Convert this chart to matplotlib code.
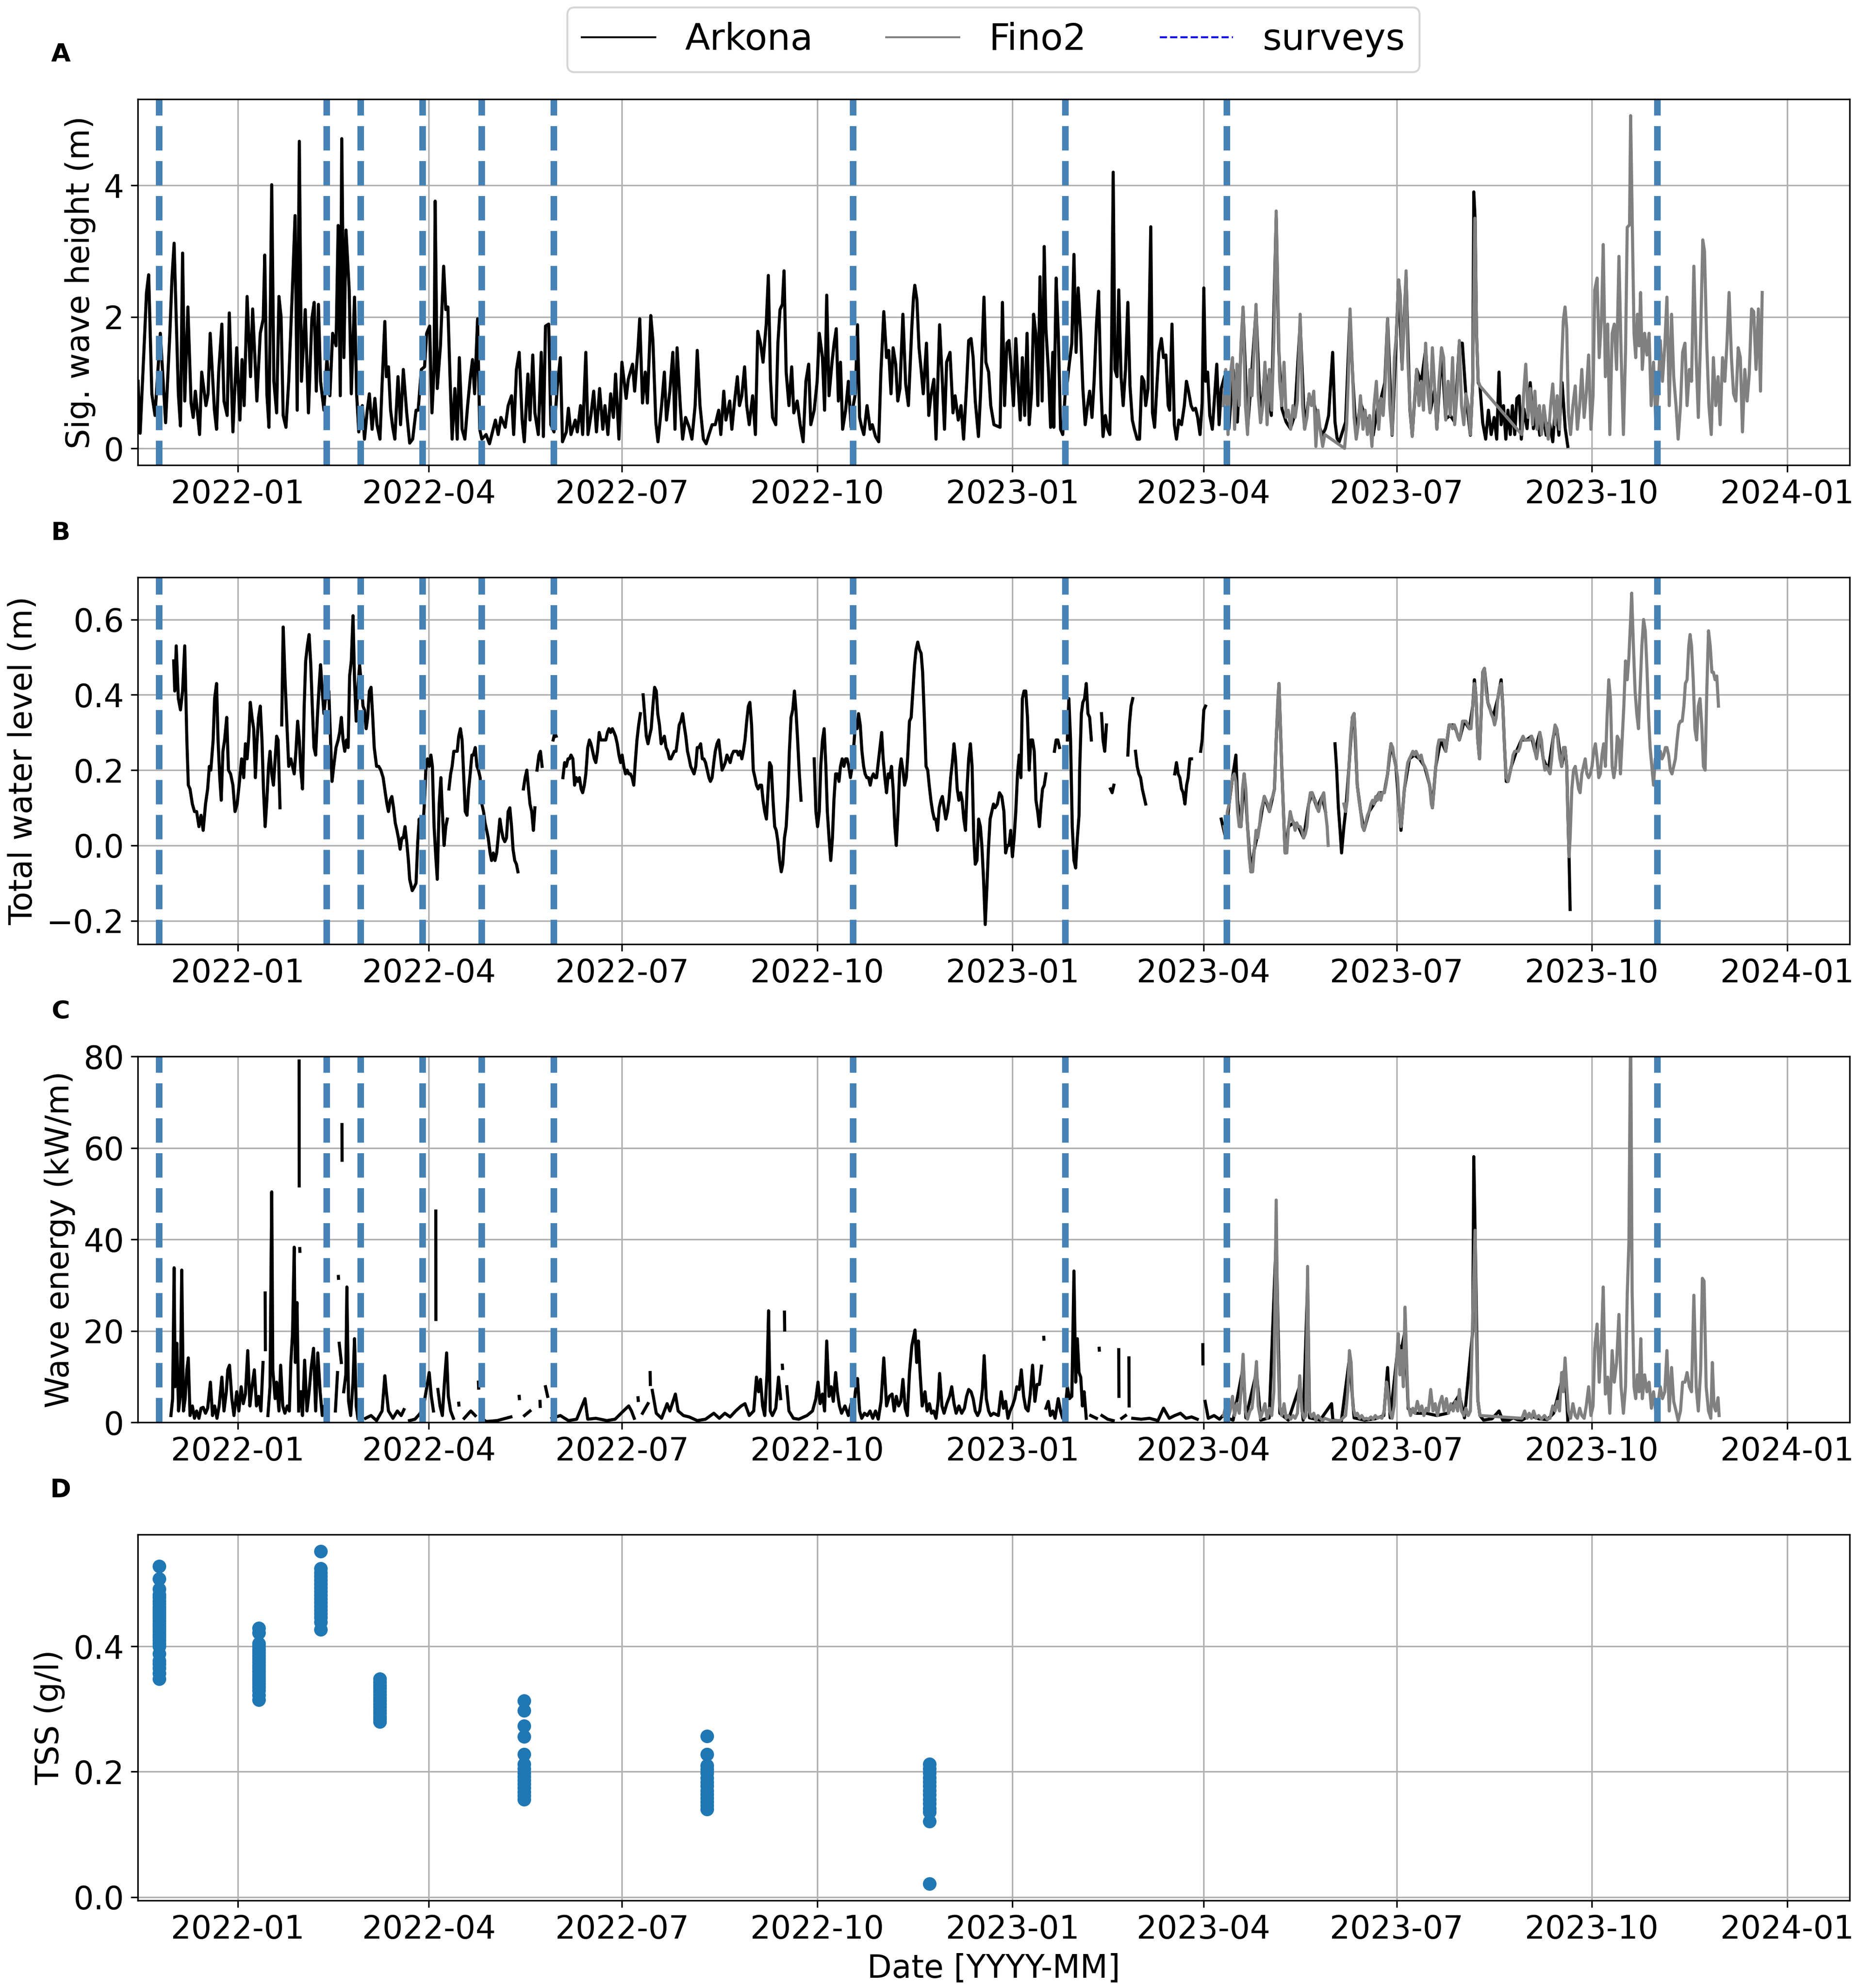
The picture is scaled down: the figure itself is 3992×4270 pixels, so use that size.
import numpy as np
import pandas as pd
import matplotlib
matplotlib.use("Agg")
import matplotlib.pyplot as plt
import matplotlib.dates as mdates
from matplotlib.lines import Line2D

# ---------------- data (day offsets, value); None = gap ----------------
BASE22 = "2022-01-01"
BASE23 = "2023-01-01"

survey_dates = ["2021-11-25", "2022-02-12", "2022-02-28", "2022-03-29", "2022-04-26",
                "2022-05-30", "2022-10-18", "2023-01-26", "2023-04-12", "2023-11-01"]

# Significant wave height, Arkona (days from 2022-01-01)
hs_ark_22 = [(-47,1.02),(-46,0.23),(-44,1.64),(-43,2.37),(-42,2.64),(-40.5,0.83),(-39,0.5),(-36.5,1.75),(-34,0.39),(-32,1.75),(-31,2.59),(-30,3.12),(-28,0.83),(-27,0.34),(-26,2.97),(-25,0.72),(-23.5,2.15),(-22,0.69),(-21,0.47),(-20,0.87),(-18,0.21),(-17,1.16),(-15,0.65),(-14,0.83),(-13,1.75),(-11,0.58),(-10,0.29),(-9,1.16),(-7.5,1.89),(-6.5,0.72),(-5,0.5),(-4,2.06),(-2.3,0.25),(-0.5,1.53),(1,0.43),(2,1.35),(3,0.65),(4.4,2.31),(6,1.09),(7,2.12),(9,0.72),(10.6,1.75),(12,1.97),(12.7,2.94),(13.7,0.83),(14.7,0.32),(16,4.01),(17,1.02),(18.3,0.54),(19.4,2.31),(20.4,2.0),(21.4,0.5),(22.7,0.32),(24,1.02),(25.6,2.3),(27,3.54),(28,0.58),(29,4.67),(30,1.02),(31.8,2.11),(33.3,0.54),(34.9,1.97),(36,2.22),(37,0.87),(38,2.19),(39,1.02),(40.6,0.58),(42,1.38),(43.4,0.8),(44.7,1.75),(46.3,1.56),(47.3,3.39),(48.3,0.8),(49,4.71),(50,1.38),(51,3.32),(52.5,2.41),(53.5,0.83),(55,2.3),(56,0.83),(57,0.25),(58.7,0.65),(59.7,0.14),(61,0.58),(62,0.83),(63.3,0.29),(64.6,0.76),(65.6,0.36),(67,0.14),(68,0.98),(69.3,1.93),(70,1.09),(71,1.24),(72,0.58),(73,0.32),(74,0.14),(75.5,1.09),(76.7,0.36),(78,1.2),(79.6,0.54),(81,0.08),(82.4,0.14),(84,0.58),(85,0.58),(86.5,1.2),(88,1.24),(89,1.75),(90.4,1.86),(91.5,0.54),(92.5,1.2),(93,3.76),(94,0.91),(95.5,1.56),(97,2.77),(98,2.11),(99,2.15),(100,1.09),(101,0.14),(102.3,0.91),(103.4,0.14),(104.4,1.38),(105.7,0.29),(107,0.14),(108.3,0.65),(109.6,1.09),(110.6,1.35),(111.6,0.83),(113,1.97),(114,0.29),(115,0.14),(117,0.21),(118.6,0.07),(120,0.25),(121.4,0.43),(122.7,0.21),(124,0.47),(126,0.32),(127.4,0.65),(129,0.8),(130,0.21),(131.3,1.2),(132.6,1.46),(134,0.43),(135,0.1),(136.7,1.13),(137.7,0.43),(139,1.42),(140,0.54),(141.6,0.21),(143,1.46),(144,0.18),(145,1.86),(146.5,1.89),(147.5,0.36),(149,0.25),(150.6,0.95),(152,1.38),(153,0.1),(154.8,0.25),(155.8,0.61),(157,0.21),(159,0.43),(160,0.25),(161.5,0.65),(162.5,0.21),(164,1.46),(165,0.21),(166.4,0.5),(167.7,0.87),(169,0.25),(170.5,0.91),(172,0.29),(173,0.65),(174.4,0.21),(175.7,0.83),(177,0.47),(178,1.13),(179.6,0.14),(181,1.31),(183,0.76),(184,1.05),(186,1.28),(187,0.87),(188.6,1.53),(189.4,1.97),(190.7,0.69),(192,1.16),(193,0.69),(194.6,2.02),(195.6,1.64),(197,0.39),(198,0.1),(199.7,0.65),(201,1.16),(202,0.43),(203.6,0.87),(205,1.46),(206,0.29),(207,1.53),(208.5,0.65),(209.6,0.14),(211,0.47),(212.7,0.32),(214,0.14),(215.5,0.65),(216.5,1.49),(217.8,0.65),(219.4,0.14),(220.7,0.07),(222,0.21),(223.5,0.36),(225,0.36),(226.6,0.58),(227.6,0.21),(229,0.87),(230,0.43),(231.8,0.72),(232.8,0.29),(234,0.69),(235.4,1.09),(236.4,0.65),(237.5,0.8),(238.8,1.24),(239.8,0.65),(241,0.36),(242.6,0.8),(243.9,0.21),(245,1.78),(246.3,1.6),(247.5,1.31),(249,1.89),(250,2.63),(251,1.05),(252,0.47),(253.5,0.36),(254.5,1.6),(255.5,2.11),(256.6,2.19),(257.4,2.7),(258.4,1.16),(259.7,0.65),(261,1.24),(262,0.54),(263.6,0.72),(265,0.36),(266.4,0.1),(267.7,1.02),(269,1.28),(270,0.36),(271.6,0.58),(273,1.02),(274,1.75),(275.5,1.38),(276.5,0.58),(277.5,2.33),(278.6,0.8),(280,1.31),(281,1.6),(282,1.82),(283,0.72),(284,1.31),(285,0.29),(286.4,0.58),(287.7,1.02),(289,0.32),(290,0.65),(291,0.83),(292,1.88),(293,0.47),(294,0.32),(295,0.21),(296.5,0.65),(298,0.29),(299,0.36),(300.5,0.18),(302,0.1),(303,1.13),(304.4,2.08),(305.7,1.38),(306.7,1.49),(307.8,0.83),(308.8,1.53),(310,1.28),(311,0.72),(312,0.91),(313.4,2.04),(314.7,0.98),(316,0.65),(317.6,1.84),(318.4,2.3),(319,2.48),(320,2.26),(321,1.53),(322,1.2),(323,0.83),(324.5,1.6),(325.6,0.5),(326.6,0.8),(328,1.05),(329,0.14),(330.7,1.88),(332,1.02),(333,0.29),(334,1.31),(335.6,1.46),(337,0.54),(338,0.8),(339.5,0.43),(340.8,0.65),(342,0.14),(343.4,0.95),(344.4,1.64),(345.5,1.67),(346.5,1.38),(347.5,0.72),(349,0.18),(350,0.83),(351.6,2.3),(352.5,1.31),(353.8,1.16),(354.8,0.65),(356.3,0.36)]

# Significant wave height, Arkona (days from 2023-01-01)
hs_ark_23 = [(-5.8,0.32),(-4.7,2.22),(-3.7,0.65),(-2.6,1.6),(-1.6,1.64),(-0.5,1.16),(0.5,0.65),(1.6,1.67),(2.6,1.02),(3.7,0.43),(4.7,1.38),(5.8,0.5),(6.9,1.75),(7.9,0.36),(9,0.83),(10,2.04),(11,1.75),(12,0.65),(13,2.61),(14,0.72),(15,3.07),(15.8,1.82),(17,1.16),(18,0.32),(19,1.46),(19.5,0.32),(20.6,2.59),(21.6,1.75),(22.7,0.29),(23.7,0.21),(24.8,0.8),(25.9,1.02),(26.9,1.31),(28,1.6),(29,2.95),(30,1.46),(31,2.44),(32.2,1.75),(33.2,0.91),(34.3,0.36),(35.4,0.65),(36.4,0.87),(37.5,0.47),(38.5,1.02),(39.6,1.89),(40.6,2.39),(41.7,0.95),(42.7,0.18),(43.8,0.5),(44.9,0.29),(45.9,0.21),(46.7,1.46),(47.5,4.2),(48.3,1.2),(49.3,1.09),(50.1,2.41),(51.2,1.09),(52.2,0.65),(53.3,1.2),(54.4,2.22),(55.4,0.95),(56.5,0.43),(57.5,0.29),(58.8,0.14),(59.9,0.14),(61,1.09),(62,1.02),(62.8,0.65),(63.9,0.91),(65.2,3.37),(66,0.54),(67,0.32),(68,0.91),(69,1.46),(70.2,1.67),(71.2,1.38),(72.3,1.42),(73.4,0.65),(74.1,0.58),(75.2,1.89),(76.3,0.36),(77.3,0.14),(78.4,0.43),(79.7,0.36),(81,0.65),(82,1.02),(83,0.87),(84.2,0.65),(85.2,0.58),(86.3,0.61),(87.3,0.47),(88.4,0.21),(89.4,0.69),(90.2,2.44),(91,1.02),(92,1.16),(93,0.5),(94.2,0.29),(95.3,0.8),(96.3,1.28),(97.4,0.36),(98.4,0.91),(100,1.1),(102,0.3),(104,1.2),(106,0.4),(108.7,2.1),(110.8,0.3),(112,0.8),(114.8,2.1),(117,0.4),(119,1.2),(122,0.5),(124.3,3.5),(125.5,1.5),(127,0.6),(129,0.4),(131,0.3),(133,0.5),(135.6,1.9),(137.7,0.3),(139.8,0.8),(142,0.7),(144,0.4),(146,0.2),(147.5,0.3),(149,0.5),(150.9,1.46),(152,0.4),(153,0.15),(154,0.1),(155.5,0.25),(157,0.4),(159,2.0),(160.5,1.0),(162,0.2),(164,0.7),(166,0.5),(168,0.4),(170,0.2),(172,0.6),(173.6,0.75),(175.5,1.0),(176.8,1.97),(178.9,0.2),(180.5,1.4),(182,2.56),(183.5,1.3),(185.5,2.6),(187.3,0.6),(188.4,0.2),(190.5,1.2),(192.6,1.0),(194.7,1.5),(196.8,0.55),(199,0.9),(200,0.3),(202.2,1.5),(204.2,0.45),(206.3,0.5),(208.4,0.4),(210.6,1.6),(212,1.6),(213.7,0.8),(215.8,0.2),(216.9,1.0),(217.4,3.9),(218,3.5),(218.7,1.75),(219.5,1.0),(220.3,0.95),(221.6,0.39),(223,0.14),(224.3,0.58),(225.6,0.21),(227,0.47),(228.2,0.14),(229.3,1.16),(230.3,0.36),(231.4,0.65),(232.5,0.14),(233.5,0.58),(234.6,0.21),(235.6,0.65),(236.7,0.21),(237.7,0.76),(238.8,0.8),(239.8,0.14),(241,0.6),(242.5,0.3),(244,1.0),(245.5,0.3),(247,0.6),(248.5,0.2),(250,0.5),(251.5,0.2),(253,0.4),(254.6,0.1),(256,0.7),(257.5,0.2),(259,1.0),(260.5,0.3),(261.7,0.03)]

# Significant wave height, Fino2 (days from 2023-01-01)
hs_fino = [(99.5,0.65),(100.5,1.2),(101.6,0.21),(102.6,1.09),(103.7,1.38),(104.7,0.29),(105.8,1.28),(106.9,0.65),(107.7,1.6),(108.7,2.15),(109.8,0.65),(110.8,0.21),(111.9,1.2),(112.9,0.8),(114,1.64),(114.8,2.19),(115.8,0.83),(116.9,0.39),(118,0.65),(119,1.31),(120,0.36),(121.1,1.2),(122.2,0.58),(123.2,1.67),(124.3,3.61),(125.1,2.3),(125.9,1.02),(126.9,0.65),(128,1.31),(129,0.47),(130,0.58),(131.1,0.29),(132.2,0.65),(133.2,0.47),(134.3,0.72),(135.6,2.04),(136.7,0.65),(137.7,0.29),(138.8,0.47),(139.8,0.83),(140.9,0.65),(142,0.87),(143,0.03),(144,0.58),(145,0.29),(146.2,0.03),(147.2,0.21),(156.5,0.0),(157.5,0.36),(158.3,1.09),(159.1,2.12),(160,1.38),(161,0.47),(162,0.14),(163,0.36),(164,0.8),(165.2,0.29),(166.2,0.58),(167.3,0.21),(168.3,0.5),(169.4,0.03),(170.4,0.65),(171.5,1.02),(172.6,0.29),(173.6,0.76),(174.7,0.5),(175.7,1.02),(176.8,1.97),(177.8,0.65),(178.9,0.21),(180,1.38),(181,1.75),(182,2.56),(182.8,2.33),(183.6,1.2),(184.4,1.75),(185.5,2.7),(186.3,1.38),(187.3,0.65),(188.4,0.18),(189.4,0.72),(190.5,1.2),(191.6,0.65),(192.6,1.02),(193.7,0.58),(194.7,1.6),(195.8,0.83),(196.8,0.54),(197.9,1.53),(198.9,0.95),(200,0.29),(201,1.02),(202.2,1.53),(203.2,1.38),(204.2,0.43),(205.3,1.02),(206.3,0.5),(207.4,1.38),(208.4,0.36),(209.5,0.83),(210.6,1.64),(211.6,0.65),(212.7,0.36),(213.7,0.83),(214.8,0.65),(215.8,0.21),(216.9,1.02),(217.9,3.5),(218.7,1.75),(219.5,1.02),(220.3,0.95),(240,0.21),(240.9,0.83),(241.9,1.28),(243,0.47),(244,0.91),(245.1,0.36),(246.2,0.87),(247.2,0.29),(248.3,0.65),(249.3,0.21),(250.4,0.65),(251.5,0.36),(252.5,0.14),(253.6,0.65),(254.6,0.98),(255.7,0.36),(256.7,0.8),(257.8,0.29),(258.8,1.31),(259.6,1.95),(260.4,2.15),(261.2,1.82),(262,0.54),(263,0.21),(264.1,0.65),(265.2,0.95),(266.2,0.29),(267.3,0.65),(268.3,1.2),(269.4,0.47),(270.4,0.83),(271.5,1.42),(272.6,0.29),(273.6,0.8),(274.4,2.41),(275.5,2.59),(276.5,1.38),(277.6,2.0),(278.4,3.1),(279.4,1.09),(280.5,1.89),(281.5,0.21),(282.6,1.75),(283.6,1.89),(284.7,1.2),(285.8,2.92),(286.8,1.46),(287.9,0.21),(288.9,1.46),(289.7,3.36),(290.8,3.4),(291.3,5.06),(292,3.58),(292.9,1.75),(293.7,1.38),(294.5,2.04),(295.3,1.56),(296,2.37),(296.8,1.2),(297.9,1.75),(299,1.42),(300,1.75),(301,0.65),(302.1,1.31),(303.2,0.36),(304.2,0.83),(305.3,1.64),(306.3,1.02),(307.4,1.56),(308.4,2.3),(309.5,0.65),(310.6,2.04),(311.6,1.09),(312.7,0.65),(313.7,0.14),(314.8,0.65),(315.8,1.46),(316.9,1.6),(317.9,0.65),(319,1.2),(320,1.02),(321.1,2.77),(322.2,1.38),(323.2,0.47),(324.3,1.75),(325.3,3.17),(326.1,3.0),(327.2,1.56),(328.2,0.65),(329.3,0.21),(330.3,1.38),(331.4,0.65),(332.5,1.09),(333.5,0.36),(334.6,1.38),(335.7,1.02),(336.7,1.6),(337.7,2.37),(338.8,1.38),(339.8,0.83),(340.9,0.72),(342,1.53),(343,1.38),(344,0.25),(345.1,1.2),(346.2,0.72),(347.2,1.13),(348.3,2.12),(349.3,2.08),(350.4,1.2),(351.5,2.12),(352.5,0.87),(353.3,2.37)]

# Total water level, Arkona (days from 2022-01-01)
wl_ark_22 = [(-30.2,0.49),(-29.7,0.41),(-29,0.53),(-28,0.39),(-27,0.36),(-26,0.41),(-25,0.53),(-24,0.28),(-23.3,0.16),(-22.5,0.15),(-21.4,0.11),(-20.4,0.09),(-19.4,0.09),(-18.3,0.05),(-17.3,0.08),(-16.3,0.04),(-15.2,0.11),(-14.2,0.15),(-13.4,0.21),(-12.7,0.20),(-11.6,0.28),(-10.9,0.39),(-10,0.43),(-9.3,0.28),(-8.5,0.18),(-7.8,0.12),(-7,0.25),(-6.2,0.28),(-5.2,0.34),(-4.4,0.20),(-3.4,0.19),(-2.3,0.16),(-1.3,0.09),(-0.3,0.11),(0.8,0.17),(1.8,0.23),(2.8,0.18),(3.6,0.27),(4.4,0.23),(5.2,0.29),(5.9,0.38),(6.7,0.34),(7.5,0.31),(8.3,0.18),(9,0.27),(9.8,0.34),(10.6,0.37),(11.4,0.28),(12.1,0.15),(12.9,0.05),(13.7,0.12),(14.5,0.21),(15.2,0.25),(16,0.19),(16.8,0.16),(17.6,0.23),(18.3,0.29),(19,0.28),(19.9,0.10),(20.3,None),
    (20.7,0.32),(21.4,0.58),(22.2,0.45),(23,0.34),(24,0.21),(25,0.23),(25.8,0.21),(26.6,0.19),(27.4,0.25),(28.2,0.33),(29,0.28),(29.7,0.20),(30.5,0.15),(31.3,0.37),(32,0.49),(32.8,0.53),(33.6,0.56),(34.4,0.48),(35.1,0.37),(35.9,0.26),(36.7,0.24),(37.5,0.34),(38.3,0.42),(39,0.48),(39.8,0.41),(40.6,0.35),(41.3,0.39),(42,0.39),(42.9,0.41),(43.7,0.28),(44.4,0.17),(45.2,0.21),(46.3,0.26),(47.3,0.28),(48,0.30),(48.8,0.34),(49.6,0.28),(50.4,0.25),(51.2,0.28),(52,0.26),(52.7,0.45),(53.5,0.49),(54.3,0.61),(55,0.44),(55.8,0.33),(56.6,0.42),(57.4,0.48),(58.2,0.43),(59,0.37),(59.7,0.36),(60.5,0.31),(61.2,0.34),(62,0.41),(62.8,0.42),(63.6,0.34),(64.3,0.26),(65.4,0.21),(66.4,0.21),(67.4,0.20),(68.5,0.18),(69.5,0.14),(70.3,0.11),(71,0.09),(71.8,0.12),(72.6,0.13),(73.4,0.10),(74.2,0.06),(75,0.04),(75.7,0.02),(76.5,-0.01),(77.3,0.02),(78,0.02),(78.8,0.05),(79.6,0.01),(80.4,-0.04),(81,-0.09),(82.2,-0.12),(83.2,-0.11),(84,-0.10),(84.8,0.01),(85.5,0.07),(86.3,0.02),(87,0.02),(87.9,0.11),(88.6,0.20),(89.4,0.23),(90.2,0.21),(91,0.24),(91.7,0.21),(92.5,0.05),(93.3,-0.03),(94,-0.09),(94.9,0.11),(95.7,0.18),(96.4,0.09),(97.2,0.00),(98,0.05),(98.7,0.07),(99.1,None),
    (99.5,0.15),(100.3,0.19),(101,0.21),(101.8,0.25),(102.6,0.25),(103.4,0.25),(104.1,0.29),(104.9,0.31),(105.7,0.28),(106.5,0.18),(107.2,0.09),(108,0.08),(108.8,0.15),(109.5,0.19),(110.3,0.24),(111,0.24),(111.9,0.26),(112.7,0.21),(113.4,0.20),(114.2,0.18),(115,0.11),(115.8,0.09),(116.5,0.06),(117.3,0.04),(118,0.02),(118.9,-0.02),(119.6,-0.04),(120.4,-0.02),(121.2,-0.04),(122,-0.02),(122.7,0.02),(123.5,0.07),(124.3,0.04),(125,0.02),(125.8,0.01),(126.6,0.02),(127.4,0.09),(128.2,0.10),(129,0.05),(129.7,-0.01),(130.5,-0.04),(131.3,-0.05),(132,-0.07),(133,None),
    (134.6,0.15),(135.4,0.18),(136.2,0.20),(137,0.15),(137.7,0.11),(138.5,0.09),(139.3,0.04),(140,0.10),(140.5,None),
    (141,0.20),(141.9,0.24),(142.6,0.25),(143.4,0.21),(145,None),
    (148.6,0.28),(149.4,0.30),(150,0.29),(151,None),
    (153.2,0.18),(154,0.22),(154.8,0.21),(155.6,0.23),(156.3,0.23),(157,0.24),(157.9,0.23),(158.7,0.16),(159.5,0.18),(160.2,0.17),(161,0.18),(161.8,0.15),(162.5,0.14),(163.3,0.16),(164,0.19),(164.9,0.26),(165.7,0.28),(166.4,0.27),(167.2,0.25),(168,0.23),(168.7,0.22),(169.5,0.25),(170.3,0.30),(171.1,0.28),(171.8,0.28),(172.6,0.28),(173.4,0.28),(174.2,0.30),(174.9,0.31),(175.7,0.30),(176.5,0.31),(177.3,0.30),(178,0.29),(178.8,0.27),(179.6,0.24),(180.4,0.22),(181.1,0.24),(181.9,0.21),(182.7,0.19),(183.5,0.20),(184.2,0.19),(185,0.19),(185.8,0.18),(186.6,0.16),(187.3,0.22),(188.1,0.28),(188.9,0.32),(189.7,0.35),(190.3,None),
    (191,0.40),(191.7,0.35),(192.5,0.29),(193.3,0.27),(194,0.29),(194.8,0.31),(195.6,0.37),(196.4,0.42),(197.2,0.41),(197.9,0.35),(198.7,0.32),(199.5,0.27),(200.3,0.28),(201,0.29),(201.8,0.26),(202.6,0.25),(203.4,0.23),(204.1,0.23),(204.9,0.24),(205.7,0.25),(206.5,0.25),(207.2,0.28),(208,0.32),(208.8,0.33),(209.6,0.35),(210.3,0.32),(211.1,0.29),(211.9,0.25),(212.7,0.23),(213.4,0.21),(214.2,0.20),(215,0.19),(215.8,0.21),(216.5,0.26),(217.3,0.26),(218.1,0.27),(218.9,0.23),(219.6,0.23),(220.4,0.22),(221.2,0.20),(222,0.18),(222.7,0.17),(223.5,0.18),(224.3,0.22),(225,0.25),(225.8,0.27),(226.6,0.28),(227.4,0.24),(228.2,0.20),(229,0.21),(229.7,0.22),(230.5,0.24),(231.3,0.23),(232,0.22),(232.8,0.24),(233.6,0.25),(234.4,0.25),(235.2,0.25),(235.9,0.24),(236.7,0.25),(237.5,0.23),(238.2,0.25),(239,0.28),(239.8,0.33),(240.6,0.37),(241.3,0.38),(242.1,0.32),(242.9,0.20),(243.7,0.18),(244.4,0.16),(245.2,0.15),(246,0.16),(246.8,0.16),(247.5,0.12),(248.3,0.09),(249.1,0.07),(249.9,0.15),(250.6,0.22),(251.4,0.21),(252.2,0.12),(253,0.05),(253.7,0.04),(254.5,0.01),(255.3,-0.04),(256.1,-0.07),(256.8,-0.05),(257.6,0.02),(258.4,0.05),(259.2,0.13),(259.9,0.25),(260.7,0.34),(261.5,0.36),(262.3,0.41),(263,0.36),(263.8,0.28),(264.6,0.19),(265.4,0.12),(268,None),
    (271.6,0.23),(272.4,0.09),(273.2,0.05),(274,0.09),(274.7,0.21),(275.5,0.28),(276.3,0.31),(277.1,0.21),(277.8,0.09),(278.6,0.02),(279.4,-0.04),(280.2,0.02),(280.9,0.12),(281.7,0.19),(282.5,0.19),(283.3,0.17),(284,0.21),(284.8,0.23),(285.6,0.21),(286.4,0.23),(287.1,0.23),(287.9,0.21),(288.7,0.18),(289.5,0.21),(290.2,0.26),(291,0.32),(291.8,0.31),(292.5,0.35),(293.3,0.32),(294.1,0.25),(294.9,0.21),(295.6,0.19),(296.4,0.18),(297.2,0.18),(298,0.16),(298.7,0.18),(299.5,0.19),(300.3,0.18),(301,0.18),(301.8,0.22),(302.6,0.26),(303.4,0.30),(304.1,0.23),(304.9,0.18),(305.7,0.14),(306.5,0.19),(307.2,0.18),(308,0.21),(308.8,0.15),(309.6,0.05),(310.3,0.00),(311.1,0.09),(311.9,0.20),(312.6,0.23),(313.4,0.20),(314.2,0.16),(315,0.18),(315.7,0.24),(316.5,0.33),(317.3,0.34),(318.1,0.41),(318.9,0.48),(319.6,0.52),(320.4,0.54),(321.2,0.52),(322,0.51),(322.7,0.46),(323.5,0.34),(324.3,0.21),(325.1,0.20),(325.8,0.16),(326.6,0.12),(327.4,0.09),(328.2,0.07),(328.9,0.07),(329.7,0.04),(330.5,0.10),(331.3,0.12),(332,0.13),(332.8,0.10),(333.6,0.07),(334.4,0.09),(335.1,0.12),(335.9,0.18),(336.7,0.22),(337.5,0.27),(338.2,0.23),(339,0.15),(339.8,0.12),(340.6,0.14),(341.3,0.12),(342.1,0.07),(342.9,0.04),(343.7,0.16),(344.4,0.23),(345.2,0.27),(346,0.21),(346.8,0.02),(347.5,-0.05),(348.3,-0.04),(349.1,0.07),(349.9,0.05),(350.6,0.00),(351.4,-0.09),(352.2,-0.21),(353,-0.11),(353.7,-0.01),(354.5,0.07),(355.3,0.09),(356.1,0.11)]

# Total water level, Arkona (days from 2023-01-01)
wl_ark_23 = [(-8.2,0.10),(-7.1,0.11),(-6.1,0.14),(-5.0,0.13),(-4.0,0.09),(-3.2,-0.02),(-2.4,0.00),(-1.6,0.00),(-0.8,0.04),(0,-0.03),(0.8,0.02),(1.6,0.09),(2.4,0.19),(3.2,0.24),(4.0,0.18),(4.7,0.39),(5.5,0.41),(6.3,0.41),(7.1,0.34),(7.9,0.20),(8.7,0.28),(9.5,0.28),(10.3,0.25),(11.1,0.12),(11.9,0.09),(12.7,0.05),(13.5,0.11),(14.2,0.15),(15.0,0.16),(15.8,0.19),(17,None),
    (19.8,0.25),(20.6,0.28),(21.4,0.28),(22.2,0.26),(23,None),
    (25.9,0.28),(26.6,0.39),(27.4,0.28),(28.2,0.05),(29.0,-0.04),(29.8,-0.06),(30.6,0.02),(31.4,0.08),(31.7,0.20),(32.5,0.35),(33.2,0.38),(34.0,0.39),(34.8,0.43),(35.6,0.35),(36.4,0.34),(37.2,0.28),(38,None),
    (42.0,0.35),(42.7,0.28),(43.5,0.25),(44.3,0.32),(45,None),
    (46.2,0.15),(47.0,0.14),(47.8,0.16),(49,None),
    (54.4,0.24),(55.1,0.32),(55.9,0.37),(56.7,0.39),(57.3,None),
    (58.0,0.25),(58.8,0.21),(59.6,0.19),(60.4,0.18),(61.2,0.15),(62.0,0.13),(62.8,0.11),(64,None),
    (76.5,0.19),(77.3,0.22),(78.1,0.19),(78.9,0.18),(79.7,0.15),(80.5,0.14),(81.3,0.11),(82.1,0.16),(82.8,0.18),(83.6,0.23),(84.4,0.23),(86,None),
    (88.7,0.25),(89.4,0.28),(90.2,0.36),(91.0,0.37),(93,None),
    (98.4,0.07),(99.2,0.05),(100.5,0.02),(102.1,0.11),(103.7,0.18),(105.3,0.24),(106.1,0.12),(107.7,0.05),(109.2,0.19),(110.8,0.05),(112.4,-0.07),(114,-0.01),(116.4,0.05),(118.7,0.13),(121.1,0.09),(123.5,0.15),(124.3,0.28),(125.6,0.43),(126.9,0.21),(128.5,-0.02),(130.1,0.05),(132.5,0.06),(134.8,0.05),(137.2,0.02),(139.6,0.11),(141.2,0.14),(143.5,0.10),(145.9,0.13),(147.5,0.09),(148.5,None),
    (152.0,0.27),(152.8,0.20),(153.6,0.10),(154.4,0.04),(155.1,-0.02),(156.2,0.05),(157.0,0.09),(158.6,0.21),(160.2,0.34),(161.0,0.35),(162.5,0.16),(164.1,0.09),(165.7,0.04),(168.1,0.09),(170.4,0.11),(172.8,0.14),(175.2,0.14),(176.8,0.19),(178.4,0.27),(180.7,0.21),(183.1,0.04),(184.7,0.15),(187.1,0.23),(189.4,0.24),(191.8,0.23),(194.2,0.21),(196.6,0.16),(197.9,0.10),(199.5,0.21),(201.8,0.28),(204.2,0.25),(205.8,0.32),(208.2,0.32),(210.6,0.28),(212.9,0.33),(215.3,0.31),(216.9,0.37),(217.7,0.44),(218.5,0.39),(219.3,0.28),(220.1,0.23),(221.6,0.46),(222.4,0.47),(224,0.38),(226.4,0.34),(228.7,0.39),(230.3,0.44),(231.1,0.37),(231.9,0.26),(232.7,0.17),(233.5,0.17),(235.1,0.21),(237.5,0.25),(239.8,0.28),(242.2,0.28),(244.6,0.29),(246.2,0.25),(248.5,0.30),(250.1,0.23),(252.5,0.20),(254.9,0.29),(256.5,0.31),(258.8,0.21),(260.4,0.26),(261.2,0.21),(261.7,0.09),(262.3,-0.03),(262.8,-0.17)]

# Total water level, Fino2 (days from 2023-01-01)
wl_fino = [(99.7,0.05),(100.5,0.02),(101.3,0.09),(102.1,0.11),(102.9,0.15),(103.7,0.18),(104.5,0.19),(105.3,0.17),(106.1,0.09),(106.9,0.05),(107.7,0.05),(108.4,0.15),(109.2,0.19),(110,0.15),(110.8,0.05),(111.6,-0.03),(112.4,-0.07),(113.2,-0.07),(114,-0.01),(114.8,0.04),(115.6,0.02),(116.4,0.05),(117.1,0.09),(117.9,0.11),(118.7,0.13),(119.5,0.12),(120.3,0.11),(121.1,0.09),(121.9,0.12),(122.7,0.13),(123.5,0.15),(124.3,0.28),(125.1,0.39),(125.6,0.43),(126.1,0.34),(126.9,0.21),(127.7,0.09),(128.5,-0.02),(129.3,-0.02),(130.1,0.05),(130.9,0.09),(131.7,0.07),(132.5,0.06),(133.2,0.04),(134,0.06),(134.8,0.05),(135.6,0.05),(136.4,0.04),(137.2,0.02),(138,0.03),(138.8,0.05),(139.6,0.11),(140.4,0.14),(141.2,0.14),(142,0.12),(142.7,0.12),(143.5,0.10),(144.3,0.09),(145.1,0.11),(145.9,0.13),(146.7,0.14),(147.5,0.09),(148.3,0.05),(148.8,0.00),(152,None),
    (156.2,0.11),(157,0.09),(157.8,0.12),(158.6,0.21),(159.4,0.29),(160.2,0.34),(161,0.35),(161.7,0.28),(162.5,0.16),(163.3,0.12),(164.1,0.09),(164.9,0.05),(165.7,0.04),(166.5,0.06),(167.3,0.08),(168.1,0.09),(168.9,0.11),(169.7,0.12),(170.4,0.11),(171.2,0.13),(172,0.12),(172.8,0.14),(173.6,0.12),(174.4,0.14),(175.2,0.14),(176,0.16),(176.8,0.19),(177.6,0.24),(178.4,0.27),(179.2,0.26),(179.9,0.23),(180.7,0.21),(181.5,0.18),(182.3,0.10),(183.1,0.05),(183.9,0.09),(184.7,0.15),(185.5,0.19),(186.3,0.22),(187.1,0.23),(187.9,0.24),(188.7,0.25),(189.4,0.24),(190.2,0.25),(191,0.24),(191.8,0.23),(192.6,0.24),(193.4,0.22),(194.2,0.21),(195,0.20),(195.8,0.18),(196.6,0.16),(197.4,0.11),(197.9,0.10),(198.7,0.15),(199.5,0.21),(200.3,0.26),(201,0.28),(201.8,0.28),(202.6,0.28),(203.4,0.28),(204.2,0.25),(205,0.29),(205.8,0.32),(206.6,0.32),(207.4,0.31),(208.2,0.32),(209,0.31),(209.8,0.29),(210.6,0.28),(211.3,0.30),(212.1,0.33),(212.9,0.33),(213.7,0.33),(214.5,0.32),(215.3,0.31),(216.1,0.31),(216.9,0.37),(217.7,0.43),(218.5,0.39),(219.3,0.28),(220.1,0.23),(220.8,0.34),(221.6,0.46),(222.4,0.47),(223.2,0.41),(224,0.38),(224.8,0.37),(225.6,0.35),(226.4,0.34),(227.2,0.32),(228,0.34),(228.7,0.39),(229.5,0.42),(230.3,0.43),(231.1,0.37),(231.9,0.26),(232.7,0.18),(233.5,0.17),(234.3,0.19),(235.1,0.21),(235.9,0.24),(236.7,0.25),(237.5,0.25),(238.3,0.25),(239.1,0.26),(239.8,0.28),(240.6,0.29),(241.4,0.28),(242.2,0.28),(243,0.28),(243.8,0.28),(244.6,0.29),(245.4,0.28),(246.2,0.25),(247,0.23),(247.8,0.26),(248.5,0.30),(249.3,0.28),(250.1,0.23),(250.9,0.20),(251.7,0.21),(252.5,0.20),(253.3,0.19),(254.1,0.23),(254.9,0.29),(255.7,0.32),(256.5,0.31),(257.3,0.26),(258,0.23),(258.8,0.21),(259.6,0.26),(260.4,0.26),(261.2,0.21),(261.7,0.09),(262.3,-0.03),(262.8,0.02),(263.6,0.15),(264.4,0.20),(265.2,0.21),(266,0.18),(266.8,0.15),(267.5,0.14),(268.3,0.19),(269.1,0.21),(269.9,0.23),(270.7,0.19),(271.5,0.18),(272.3,0.19),(273.1,0.21),(273.9,0.25),(274.7,0.27),(275.5,0.23),(276.3,0.18),(277,0.19),(277.8,0.24),(278.6,0.27),(279.4,0.21),(280.2,0.34),(281,0.44),(281.8,0.39),(282.6,0.21),(283.4,0.18),(284.2,0.21),(285,0.29),(285.8,0.28),(286.5,0.19),(287.3,0.28),(288.1,0.37),(288.9,0.49),(289.7,0.44),(290.5,0.50),(291.3,0.60),(291.8,0.67),(292.6,0.53),(293.4,0.41),(294.2,0.35),(295,0.31),(295.8,0.42),(296.6,0.53),(297.4,0.60),(298.2,0.57),(299,0.47),(299.8,0.34),(300.5,0.26),(301.3,0.21),(302.1,0.16),(302.9,0.23),(303.7,0.23),(304.5,0.24),(305.3,0.25),(306.1,0.23),(306.9,0.24),(307.7,0.26),(308.4,0.26),(309.2,0.24),(310,0.20),(310.8,0.19),(311.6,0.21),(312.4,0.23),(313.2,0.28),(314,0.32),(314.8,0.33),(315.6,0.33),(316.4,0.37),(317.1,0.43),(317.9,0.44),(318.7,0.53),(319.3,0.56),(320,0.53),(320.8,0.44),(321.6,0.31),(322.4,0.28),(323.2,0.37),(324,0.39),(324.8,0.32),(325.6,0.21),(326.4,0.20),(327.2,0.41),(328,0.57),(328.8,0.53),(329.6,0.46),(330.3,0.46),(331.1,0.44),(331.9,0.45),(332.7,0.37)]

# Wave energy, Arkona (days from 2022-01-01)
en_ark_22 = [(-31.5,1.5),(-30.7,5.2),(-30,33.8),(-29.5,7.8),(-28.7,17.3),(-27.9,2.5),(-27.1,5.7),(-26.4,33.3),(-25.6,2.5),(-24.8,5.2),(-24,11.5),(-23.3,14.1),(-22.5,1.5),(-21.4,3.6),(-20.4,0.9),(-19.4,2.5),(-18.3,0.9),(-17.3,3.1),(-16.3,3.3),(-15.2,2.0),(-14.2,3.1),(-12.9,8.8),(-11.9,1.5),(-10.9,3.6),(-9.8,0.9),(-8.8,3.6),(-7.5,9.9),(-6.5,2.5),(-5.4,6.7),(-4.7,11.5),(-3.9,12.5),(-2.8,5.2),(-1.8,1.5),(-0.5,6.7),(0.5,2.5),(1.6,7.8),(2.6,4.1),(3.6,6.2),(4.7,15.7),(5.7,3.6),(6.7,7.8),(7.8,11.5),(8.8,3.6),(9.8,5.7),(10.9,2.5),(11.9,13.1),(12.4,None),(12.9,28.3),(13.0,15.9),(13.2,None),(14.2,1.5),(15.2,7.8),(16,50.4),(16.5,11.5),(17.6,5.2),(18.3,8.8),(19.4,2.5),(20.2,12.5),(21.2,3.6),(22.2,2.0),(23.3,3.6),(24.3,2.5),(25,13.1),(25.8,19.4),(26.6,38.3),(27.1,13.1),(27.9,26.2),(28.7,2.5),(28.8,None),(28.9,79.0),(28.95,51.7),(29.0,None),(29.2,38.0),(29.25,37.4),(29.3,None),(29.5,6.7),(30.5,1.5),(31.5,13.6),(32.6,2.5),(33.6,6.7),(34.6,12.0),(35.7,16.2),(36.7,2.5),(37.7,15.2),(38.8,6.7),(39.8,1.5),(40.8,3.6),(41.9,0.9),(43,None),
    (46,2.5),(47,10.9),(47.3,None),(47.4,31.9),(47.45,31.5),(47.6,None),(47.8,17.3),(48.8,13.1),(49.0,None),(49.1,65.1),(49.15,57.3),(49.3,None),(49.9,6.7),(50.9,10.4),(51.4,29.6),(52.2,4.6),(53.2,1.5),(54.3,8.8),(55,18.3),(55.8,3.6),(56.6,0.9),(57.5,None),
    (60.2,0.9),(62.8,1.5),(65.4,0.4),(68,2.5),(69.3,10.2),(70,6.7),(71,2.5),(73.1,0.9),(75.2,2.5),(77,1.5),(78.3,2.8),(79,None),(80.9,0.4),(83.5,0.7),(86,2.0),(87.9,4.6),(89.1,7.8),(90.2,10.9),(91.2,5.7),(92.2,2.5),(92.8,None),(93.3,46.2),(93.35,22.5),(93.6,None),(94.3,7.2),(95.3,3.6),(96.4,1.5),(97.4,8.8),(98.4,15.2),(99.2,5.7),(100.3,2.5),(101.6,0.9),(102.5,None),(104.1,4.2),(104.2,3.8),(105,None),(106.7,0.9),(109.8,2.5),(111.9,1.5),(112.6,None),(113.4,8.8),(113.5,7.5),(114,None),(115,0.9),(117,0.2),(122.2,0.4),(128.7,1.2),(130,None),(132.6,5.7),(132.7,5.2),(133,None),(135.1,1.5),(137.7,2.5),(138.5,None),(142.4,4.6),(142.5,3.5),(143,None),(145,7.8),(146,5.7),(146.5,None),(148,0.9),(152,1.5),(155.8,0.4),(159.7,0.7),(163.6,5.2),(164.9,0.7),(168.7,0.9),(173.9,0.4),(177.8,0.7),(181.7,2.5),(184.2,3.6),(185.5,2.5),(186.8,0.9),(187.5,None),(188.6,5.4),(188.7,4.8),(189.5,None),(190.7,2.0),(193.3,4.1),(193.8,None),(194.3,10.9),(194.4,8.3),(194.8,None),(195.3,7.0),(197.2,2.0),(199.7,0.9),(202.3,4.1),(203.6,2.5),(206.2,6.2),(207.5,2.5),(210,1.5),(212.7,1.2),(216.5,0.4),(220.4,0.7),(224.3,2.0),(226.9,0.9),(229.5,2.0),(232,1.2),(234.6,2.5),(237.2,3.6),(239,4.1),(241,1.5),(243.1,2.5),(244.4,9.9),(245.4,6.7),(246.3,9.4),(247.3,3.6),(248.3,1.5),(249.4,10.9),(250.1,24.4),(250.9,2.5),(251.9,1.5),(253.5,3.1),(254.8,9.9),(255.8,5.2),(256.2,None),(256.6,12.5),(256.7,11.8),(257.1,None),(257.6,24.1),(257.7,20.2),(258.1,None),(258.7,7.8),(259.7,2.5),(261.8,0.9),(264.3,0.7),(268.2,1.5),(270.8,2.5),(272.4,5.2),(273.4,8.8),(274.4,4.1),(275.5,6.2),(276.5,2.5),(277.5,17.8),(278.6,5.7),(279.6,7.8),(280.6,4.6),(281.7,10.9),(282.5,6.7),(283.5,3.6),(284.5,2.0),(286.1,3.6),(287.7,1.5),(289,4.1),(290,1.5),(291,6.7),(292,9.6),(293,2.5),(294,0.9),(295.3,2.0),(296.6,1.5),(297.9,2.5),(299.2,0.9),(300.5,2.5),(301.8,0.7),(303.1,4.6),(304.4,14.1),(305.7,3.6),(307,5.7),(308.3,6.2),(309.3,2.5),(310.3,5.7),(311.4,3.6),(312.4,4.6),(313.4,9.4),(314.5,3.1),(315.5,1.5),(316.5,10.9),(317.6,16.7),(318.4,18.6),(319.1,20.2),(319.9,13.1),(320.7,17.8),(321.5,10.9),(322.5,3.6),(323.8,6.7),(324.8,2.5),(325.9,4.1),(326.9,2.0),(327.9,2.5),(329,0.9),(330,4.6),(330.7,10.7),(331.8,3.6),(332.8,2.0),(334.1,4.1),(335.4,5.7),(336.4,7.8),(337.5,4.1),(338.5,2.0),(339.8,3.6),(341.1,2.0),(342.4,3.1),(343.4,5.7),(344.4,7.2),(345.5,6.7),(346.5,5.2),(347.5,2.5),(348.6,1.5),(349.6,2.5),(350.9,7.2),(351.7,14.6),(352.7,5.2),(353.8,2.5),(354.8,1.5),(356.1,2.0)]

# Wave energy, Arkona (days from 2023-01-01)
en_ark_23 = [(-6.6,1.5),(-5.3,6.7),(-4.2,3.1),(-3.2,4.6),(-2.1,0.9),(-1.1,2.5),(0,3.6),(1.1,5.2),(2.1,7.8),(3.2,7.2),(4.2,11.5),(5.3,5.7),(6.3,3.1),(7.4,2.5),(8.4,6.2),(9.5,12.5),(10.6,4.6),(11.6,8.3),(12.7,8.3),(13.7,12.3),(14.3,None),(14.8,18.6),(14.85,18.2),(15.2,None),(15.8,3.1),(16.9,4.6),(17.9,1.5),(19,2.5),(20.1,0.9),(21.6,5.2),(22.7,2.5),(23.7,0.9),(24.8,2.5),(25.9,7.8),(26.9,5.2),(28,5.7),(29,33.1),(29.8,8.8),(30.6,18.3),(31.4,10.9),(32.2,9.9),(33,3.6),(33.8,6.7),(34.8,0.9),(35.5,None),(36.9,1.5),(39.6,0.9),(40.5,None),(40.9,16.2),(40.95,15.8),(41.3,None),(42.2,1.5),(44.9,0.7),(47.5,0.4),(48,None),(50.1,15.9),(50.2,5.7),(50.6,None),(51.5,0.9),(53.3,1.5),(54,None),(54.9,14.1),(55.0,3.6),(55.5,None),(56.7,0.9),(60.7,0.7),(64.6,0.9),(68.6,0.4),(71.2,3.1),(73.9,0.9),(76.5,1.5),(79.2,2.0),(81.8,0.9),(84.4,1.2),(87.1,0.7),(88,None),(89.7,17.0),(89.8,12.8),(90.2,None),(90.8,4.6),(92.3,0.9),(95,1.5),(97.6,0.7),(99.2,1.5),(101,1.0),(104,0.5),(108.7,12.0),(110,1.0),(115,11.0),(117,0.5),(121,1.0),(124.3,40.0),(126,2.0),(130,0.5),(135.4,8.0),(137,0.5),(139.1,30.0),(140,1.0),(145,0.5),(150.4,4.1),(151,0.5),(155,0.3),(158.8,14.0),(161,1.0),(166,0.5),(171,0.8),(175,1.5),(176.8,12.0),(178,1.0),(181.8,17.0),(183.4,16.2),(185,20.0),(186.5,3.0),(190,2.0),(195,2.0),(200,1.5),(205,2.0),(210.6,6.0),(213,1.0),(216.9,20.0),(217.4,58.1),(218,42.0),(219.3,5.0),(220.3,1.5),(222,0.5),(226,0.8),(229.3,2.5),(231,0.5),(234,0.5),(236,1.0),(238,0.6),(240,0.5),(244,1.5),(248,0.8),(252,0.6),(255,2.0),(258.8,9.0),(260.4,12.0),(261.7,0.5)]

# Wave energy, Fino2 (days from 2023-01-01)
en_fino = [(99.5,1.5),(100.5,3.6),(101.6,0.9),(102.6,2.5),(103.7,5.7),(104.7,1.5),(105.8,4.1),(106.9,2.0),(107.7,6.7),(108.7,14.9),(109.8,2.5),(110.8,0.7),(111.9,2.5),(112.9,3.1),(114,7.8),(115,13.3),(115.8,3.6),(116.9,0.9),(118,2.5),(119,4.1),(120,0.9),(121.1,3.1),(122.2,1.5),(123.2,6.7),(124.3,48.6),(125.1,15.7),(125.9,3.6),(126.9,1.5),(128,4.1),(129,0.9),(130,1.5),(131.1,0.7),(132.2,1.5),(133.2,0.9),(134.3,2.0),(135.4,10.2),(136.4,2.5),(137.5,0.9),(138.3,1.5),(139.1,34.1),(139.8,2.5),(140.9,1.2),(142,2.0),(143,0.4),(144,1.5),(145.1,0.9),(146.2,0.4),(147.2,0.9),(148.3,0.7),(150.4,0.4),(154.4,0.4),(157,1.5),(158,6.7),(158.8,15.7),(159.6,13.1),(160.4,3.6),(161.5,1.5),(162.5,2.0),(163.6,0.9),(164.6,1.5),(165.7,0.7),(166.8,0.9),(167.8,0.7),(168.9,1.2),(169.9,0.7),(171,1.5),(172,0.9),(173.1,1.2),(174.1,0.9),(175.2,2.5),(176.3,8.8),(177,6.7),(177.8,2.5),(178.9,0.9),(179.9,3.6),(181,13.1),(181.8,19.4),(182.6,10.4),(183.4,15.7),(184.2,7.8),(185,25.2),(185.8,13.1),(186.5,3.6),(187.6,1.5),(188.7,3.1),(189.7,2.0),(190.8,4.6),(191.8,2.5),(192.9,3.6),(193.9,1.5),(195,3.1),(196,2.5),(197.1,7.2),(198.2,2.5),(199.2,4.1),(200.3,1.5),(201.3,4.1),(202.4,5.7),(203.4,2.5),(204.5,5.2),(205.5,2.0),(206.6,4.1),(207.7,2.5),(208.7,4.6),(209.8,2.5),(210.6,7.2),(211.6,2.5),(212.7,1.5),(213.7,3.1),(214.8,1.5),(215.8,2.5),(216.9,23.6),(218,42.0),(218.5,20.9),(219.3,5.2),(220.3,1.5),(240.1,0.9),(241.4,2.5),(242.5,0.9),(243.5,2.0),(244.6,0.9),(245.6,2.5),(246.7,0.9),(248,1.5),(249.3,0.7),(250.7,1.5),(252,0.7),(253.3,0.9),(254.6,3.6),(255.7,2.5),(256.7,4.6),(257.8,2.5),(258.8,10.9),(259.6,6.7),(260.4,14.1),(261.2,7.8),(262,2.5),(263,0.9),(264.1,4.1),(265.2,1.5),(266.2,0.9),(267.3,3.1),(268.3,1.5),(269.4,0.9),(270.4,3.6),(271.5,7.8),(272.6,1.5),(273.6,3.6),(274.4,16.2),(275.5,21.5),(276.5,8.8),(277.6,18.3),(278.4,29.6),(279.4,6.2),(280.5,9.9),(281.5,2.0),(282.6,15.7),(283.6,8.8),(284.7,13.1),(285.8,23.6),(286.8,7.8),(287.9,2.0),(288.9,7.8),(289.7,27.8),(290.5,39.4),(291.3,88.0),(292,28.8),(292.9,7.8),(293.7,5.2),(294.5,10.4),(295.3,6.7),(296.1,18.3),(296.8,5.2),(297.9,10.4),(299,6.7),(300,8.8),(301.1,3.1),(302.1,6.7),(303.2,2.0),(304.2,4.1),(305.3,7.8),(306.3,5.2),(307.4,6.7),(308.4,15.7),(309.5,2.5),(310.6,12.0),(311.6,4.6),(312.7,2.5),(313.7,0.4),(314.8,2.5),(315.8,8.8),(316.9,8.8),(317.9,10.9),(319,7.8),(320,6.7),(321.1,27.8),(322.2,7.8),(323.2,2.5),(324.3,11.5),(325.1,31.5),(325.9,30.9),(326.9,7.8),(328,2.5),(329.1,0.9),(329.8,13.1),(330.6,3.6),(331.4,2.5),(332.5,5.4),(333,1.5)]

# TSS samples (g/l) per survey date
tss_dates = ["2021-11-25", "2022-01-11", "2022-02-09", "2022-03-09", "2022-05-16", "2022-08-10", "2022-11-23"]
tss_1 = [0.528,0.508,0.492,0.483,0.478,0.472,0.468,0.463,0.458,0.454,0.450,0.446,0.441,0.437,0.432,0.428,0.424,0.419,0.415,0.410,0.405,0.400,0.388,0.377,0.372,0.365,0.357,0.348]
tss_2 = [0.429,0.422,0.405,0.400,0.395,0.390,0.385,0.380,0.375,0.370,0.365,0.360,0.355,0.350,0.345,0.340,0.335,0.330,0.322,0.315]
tss_3 = [0.552,0.524,0.518,0.512,0.506,0.500,0.494,0.488,0.482,0.476,0.470,0.464,0.458,0.452,0.446,0.439,0.427]
tss_4 = [0.348,0.343,0.338,0.333,0.328,0.323,0.318,0.313,0.308,0.303,0.298,0.293,0.288,0.284,0.280]
tss_5 = [0.313,0.298,0.273,0.256,0.228,0.212,0.205,0.198,0.192,0.186,0.180,0.174,0.168,0.162,0.156]
tss_6 = [0.257,0.228,0.210,0.204,0.198,0.190,0.183,0.177,0.170,0.164,0.158,0.152,0.146,0.140]
tss_7 = [0.212,0.205,0.198,0.191,0.184,0.177,0.170,0.163,0.156,0.149,0.142,0.136,0.121,0.021]

# ---------------- helpers ----------------
def to_series(pairs, base):
    d = np.array([p[0] for p in pairs], dtype=float)
    v = np.array([np.nan if p[1] is None else p[1] for p in pairs], dtype=float)
    t = pd.Timestamp(base) + pd.to_timedelta(d, unit="D")
    return t, v

def join(*parts):
    ts = [p[0] for p in parts]
    vs = [p[1] for p in parts]
    return ts[0].append(ts[1:]), np.concatenate(vs)

hs_a = join(to_series(hs_ark_22, BASE22), to_series(hs_ark_23, BASE23))
hs_f = to_series(hs_fino, BASE23)
wl_a = join(to_series(wl_ark_22, BASE22), to_series(wl_ark_23, BASE23))
wl_f = to_series(wl_fino, BASE23)
en_a = join(to_series(en_ark_22, BASE22), to_series(en_ark_23, BASE23))
en_f = to_series(en_fino, BASE23)

# ---------------- figure ----------------
FS = 16.5
plt.rcParams["font.family"] = ["DejaVu Sans"]
fig = plt.figure(figsize=(3992/300, 4270/300), dpi=300)

L, W = 0.0741, 0.9214
rects = [(0.7660, 0.1841), (0.5251, 0.1845), (0.2845, 0.1841), (0.0440, 0.1841)]
axes = [fig.add_axes([L, b, W, h]) for b, h in rects]

xmin = pd.Timestamp("2021-11-14 20:00")
xmax = pd.Timestamp("2024-01-30 12:00")

LW = 1.6
ax = axes[0]
ax.plot(hs_a[0], hs_a[1], color="black", lw=LW)
ax.plot(hs_f[0], hs_f[1], color="gray", lw=LW)
ax.set_ylim(-0.256, 5.31)
ax.set_yticks([0, 2, 4])
ax.set_ylabel("Sig. wave height (m)", fontsize=FS)

ax = axes[1]
ax.plot(wl_a[0], wl_a[1], color="black", lw=LW)
ax.plot(wl_f[0], wl_f[1], color="gray", lw=LW)
ax.set_ylim(-0.262, 0.712)
ax.set_yticks([-0.2, 0.0, 0.2, 0.4, 0.6])
ax.set_ylabel("Total water level (m)", fontsize=FS)

ax = axes[2]
ax.plot(en_a[0], en_a[1], color="black", lw=LW)
ax.plot(en_f[0], en_f[1], color="gray", lw=LW)
ax.set_ylim(0, 80)
ax.set_yticks([0, 20, 40, 60, 80])
ax.set_ylabel("Wave energy (kW/m)", fontsize=FS)

for ax in axes[:3]:
    for d in survey_dates:
        ax.axvline(pd.Timestamp(d), color="steelblue", ls="--", lw=3.4)

ax = axes[3]
for d, vals in zip(tss_dates, [tss_1, tss_2, tss_3, tss_4, tss_5, tss_6, tss_7]):
    ax.scatter([pd.Timestamp(d)] * len(vals), vals, color="#1f77b4", s=36, zorder=3)
ax.set_ylim(-0.0056, 0.5786)
ax.set_yticks([0.0, 0.2, 0.4])
ax.set_ylabel("TSS (g/l)", fontsize=FS)
ax.set_xlabel("Date [YYYY-MM]", fontsize=FS)

for ax, letter in zip(axes, "ABCD"):
    ax.set_xlim(xmin, xmax)
    ax.xaxis.set_major_locator(mdates.MonthLocator(bymonth=(1, 4, 7, 10)))
    ax.xaxis.set_major_formatter(mdates.DateFormatter("%Y-%m"))
    ax.tick_params(labelsize=FS)
    ax.grid(True)
    ax.set_axisbelow(True)
    ax.text(-0.045, 1.122, letter, transform=ax.transAxes, fontsize=13,
            fontweight="bold", ha="center", va="center")

handles = [Line2D([0], [0], color="black", lw=1),
           Line2D([0], [0], color="gray", lw=1),
           Line2D([0], [0], color="blue", lw=1, ls="--")]
fig.legend(handles, ["Arkona", "Fino2", "surveys"], loc="upper center",
           bbox_to_anchor=(0.5347, 0.9963), ncol=3, fontsize=18.9, borderaxespad=0)

fig.savefig("out.png", dpi=300)
